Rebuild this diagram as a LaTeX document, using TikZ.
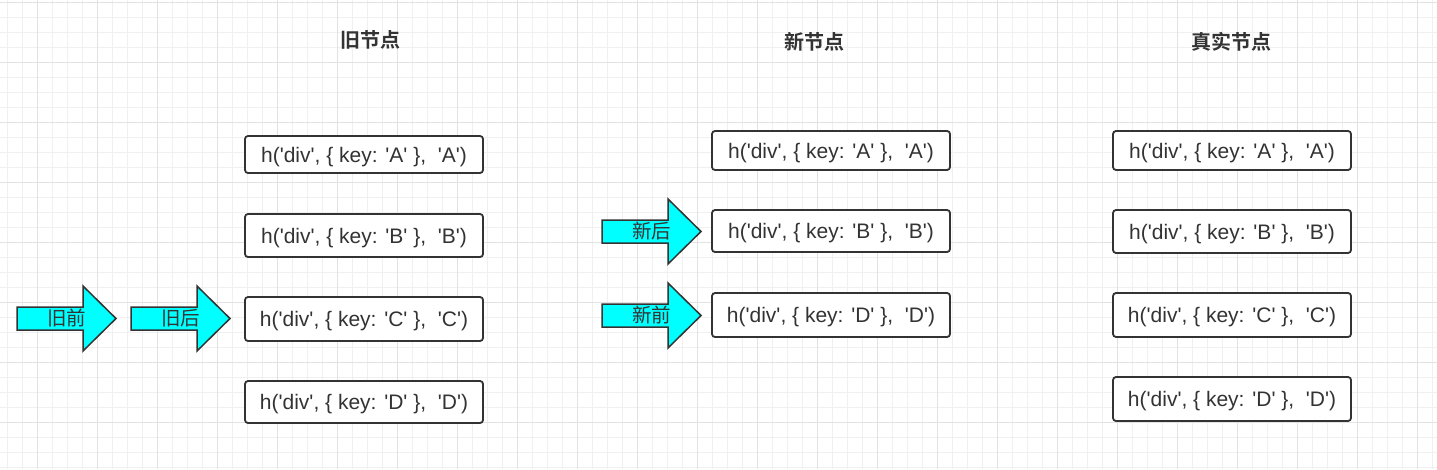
\documentclass[tikz,border=0pt]{standalone}
\usepackage{fontspec}
\setmainfont{Liberation Sans}
\newfontfamily\boxfont{Liberation Sans}
\newfontfamily\cjk{Noto Sans CJK SC}
\newfontfamily\cjkbold{Noto Sans CJK SC Bold}
\definecolor{ink}{HTML}{333333}
\definecolor{gridminor}{HTML}{F0F0F0}
\definecolor{gridmajor}{HTML}{E2E2E2}
\definecolor{aqua}{HTML}{00FFFF}
\tikzset{
  vbox/.style={draw=ink, line width=1.8pt, rounded corners=3pt, fill=white,
    minimum width=238pt, inner sep=0pt, text=ink, text height=19.5pt, text depth=4pt,
    font=\boxfont\fontsize{21}{24}\selectfont},
  title/.style={text=ink, font=\cjkbold\fontsize{20}{24}\selectfont},
  arrowlabel/.style={text=ink, inner sep=0pt, font=\cjk\fontsize{19.5}{22}\selectfont},
  bigarrowshape/.style={draw=ink, line width=1.5pt, fill=aqua, line join=miter},
}
\newcommand{\fatarrow}[4]{% name, x, y (left middle), label
  \draw[bigarrowshape] (#2,#3-11.5) -- (#2+66,#3-11.5) -- (#2+66,#3-32.5) -- (#2+99,#3)
     -- (#2+66,#3+32.5) -- (#2+66,#3+11.5) -- (#2,#3+11.5) -- cycle;
  \node[arrowlabel] (#1) at (#2+49.5,#3) {#4};
}
\begin{document}
\begin{tikzpicture}[x=1pt,y=-1pt]
\useasboundingbox (0,0) rectangle (1437,469);
\fill[white] (0,0) rectangle (1437,469);
\foreach \x in {7.5,22.5,...,1437} \draw[gridminor, line width=1pt] (\x,0) -- (\x,469);
\foreach \y in {2.5,17.5,...,469} \draw[gridminor, line width=1pt] (0,\y) -- (1437,\y);
\foreach \x in {37.5,97.5,...,1437} \draw[gridmajor, line width=1pt] (\x,0) -- (\x,469);
\foreach \y in {2.5,62.5,...,469} \draw[gridmajor, line width=1pt] (0,\y) -- (1437,\y);

% titles
\node[title] (tOld) at (370,40) {旧节点};
\node[title] (tNew) at (814,42) {新节点};
\node[title] (tReal) at (1231,42) {真实节点};

% old vnodes
\node[vbox, minimum height=37pt] (oA) at (364,154.5) {h('div', \{ key: 'A' \},\ \ 'A')};
\node[vbox, minimum height=43pt] (oB) at (364,235.5) {h('div', \{ key: 'B' \},\ \ 'B')};
\node[vbox, minimum height=44pt] (oC) at (364,319) {h('div', \{ key: 'C' \},\ \ 'C')};
\node[vbox, minimum height=42pt] (oD) at (364,402) {h('div', \{ key: 'D' \},\ \ 'D')};

% new vnodes
\node[vbox, minimum height=39pt] (nA) at (831,150.5) {h('div', \{ key: 'A' \},\ \ 'A')};
\node[vbox, minimum height=42pt] (nB) at (831,231) {h('div', \{ key: 'B' \},\ \ 'B')};
\node[vbox, minimum height=44pt] (nD) at (831,315) {h('div', \{ key: 'D' \},\ \ 'D')};

% real nodes
\node[vbox, minimum height=39pt] (rA) at (1232,150.5) {h('div', \{ key: 'A' \},\ \ 'A')};
\node[vbox, minimum height=43pt] (rB) at (1232,231.5) {h('div', \{ key: 'B' \},\ \ 'B')};
\node[vbox, minimum height=44pt] (rC) at (1232,315) {h('div', \{ key: 'C' \},\ \ 'C')};
\node[vbox, minimum height=44pt] (rD) at (1232,399) {h('div', \{ key: 'D' \},\ \ 'D')};

% pointer arrows
\fatarrow{oldStart}{17}{318.5}{旧前}
\fatarrow{oldEnd}{131}{318.5}{旧后}
\fatarrow{newEnd}{602}{231.5}{新后}
\fatarrow{newStart}{602}{315.5}{新前}
\end{tikzpicture}
\end{document}
